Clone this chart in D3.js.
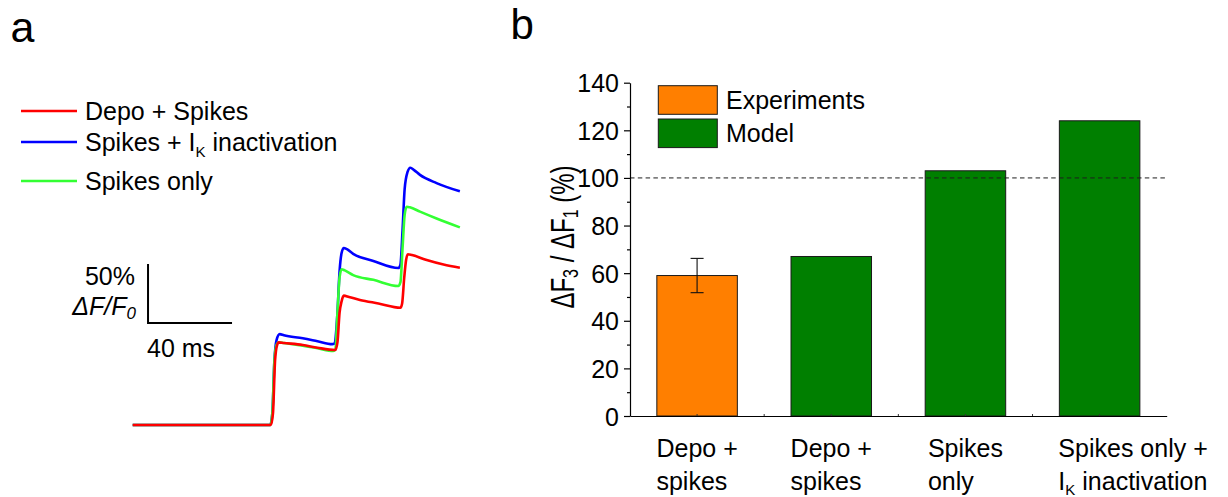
<!DOCTYPE html>
<html>
<head>
<meta charset="utf-8">
<script src="https://cdn.jsdelivr.net/npm/d3@7"></script>
<style>
  html, body { margin: 0; padding: 0; background: #fff; }
  svg { display: block; font-family: "Liberation Sans", Arial, Helvetica, sans-serif; }
</style>
</head>
<body>
<svg id="fig" width="1228" height="497"></svg>
<script>
// --- data -------------------------------------------------------------------

// panel a: simulated fluorescence traces, [time (ms), dF/F0 (%)]
const depoSpikes = [
  [0, 0], [65.8, 0], [66.8, 10], [67.8, 55], [68.8, 68], [69.5, 70], [72, 69.5],
  [81, 67.8], [88, 65.5], [96.5, 63.6], [97.5, 70], [98.5, 95], [99.5, 105],
  [100.5, 109.6], [103, 108.5], [108.2, 106], [117, 103], [127.5, 99.4],
  [128.3, 103], [129.3, 125], [130.2, 140], [131, 144.7], [133, 144],
  [140, 139.8], [148, 136], [155.8, 133.3]
];
const spikesIk = [
  [0, 0], [65.5, 0], [66.5, 10], [67.5, 55], [68.5, 72], [70, 77], [72, 76],
  [81, 73.5], [88, 71], [95, 68.5], [96, 69], [97.5, 95], [98.5, 130],
  [99.5, 146], [100.5, 150], [102, 149], [105, 145], [114.6, 139], [126.5, 133],
  [127.5, 136], [128.5, 165], [129.5, 200], [130.8, 214], [132.2, 218],
  [134, 216], [136.8, 212], [144.7, 205], [155.8, 198]
];
const spikesOnly = [
  [0, 0], [65.5, 0], [66.5, 10], [67.5, 55], [68.5, 68], [69.5, 70], [72, 69.5],
  [81, 67.2], [88, 65], [95.5, 62.7], [96.5, 64], [97.5, 95], [98.5, 125],
  [99.5, 132], [101, 131], [105, 127], [114.6, 123], [126.5, 117.8],
  [127.5, 121], [128.5, 150], [129.5, 178], [130.5, 185], [132, 184.5],
  [136.8, 180.8], [144.7, 175], [155.8, 167.5]
];
const traceLabels = ['Depo + Spikes', 'Spikes + I_{K} inactivation', 'Spikes only'];
const scaleBarTime = 40;   // ms
const scaleBarAmp = 50;    // %

// panel b: dF3/dF1 ratio
const categories = ['expDepo', 'modelDepo', 'modelSpikes', 'modelSpikesIk'];
const catLabels = [
  ['Depo +', 'spikes'],
  ['Depo +', 'spikes'],
  ['Spikes', 'only'],
  ['Spikes only +', 'I_{K} inactivation']
];
const ratioValues = [59, 67, 103, 124];
const ratioErrors = [7.2, 0, 0, 0];
const barSource = ['Experiments', 'Model', 'Model', 'Model'];
const legendNames = ['Experiments', 'Model'];
const yMajorTicks = [0, 20, 40, 60, 80, 100, 120, 140];
const yMinorTicks = [10, 30, 50, 70, 90, 110, 130];
const refLevel = 100;

// --- helpers ----------------------------------------------------------------

// write "text_{sub}text" into a <text> as tspans
function richText(sel, str, subSize, subDy) {
  const parts = str.split(/(_\{[^}]*\})/).filter(s => s.length);
  let shifted = false;
  parts.forEach(p => {
    if (p.startsWith('_{')) {
      sel.append('tspan').attr('font-size', subSize).attr('dy', subDy).text(p.slice(2, -1));
      shifted = true;
    } else {
      const t = sel.append('tspan').text(p);
      if (shifted) { t.attr('dy', -subDy); shifted = false; }
    }
  });
  return sel;
}

const svg = d3.select('#fig');
const FS = 25;

// --- panel a ----------------------------------------------------------------

svg.append('text').attr('x', 10.5).attr('y', 41.7).attr('font-size', 43).text('a');

const xA = d3.scaleLinear().domain([0, 156]).range([132.7, 460.3]);
const yA = d3.scaleLinear().domain([0, 220]).range([425, 165.4]);

const traces = [
  { label: traceLabels[0], color: '#ff0000', pts: depoSpikes },
  { label: traceLabels[1], color: '#0000ff', pts: spikesIk },
  { label: traceLabels[2], color: '#33ff33', pts: spikesOnly }
];

const line = d3.line()
  .x(d => xA(d[0]))
  .y(d => yA(d[1]))
  .curve(d3.curveMonotoneX);

// blue and green underneath, red on top
[traces[1], traces[2], traces[0]].forEach(tr => {
  svg.append('path')
    .attr('d', line(tr.pts))
    .attr('fill', 'none')
    .attr('stroke', tr.color)
    .attr('stroke-width', 2.6)
    .attr('stroke-linejoin', 'round');
});

// legend
const legendY = [111, 142, 181];
traces.forEach((tr, i) => {
  svg.append('line')
    .attr('x1', 21).attr('x2', 77)
    .attr('y1', legendY[i]).attr('y2', legendY[i])
    .attr('stroke', tr.color).attr('stroke-width', 2.4);
  const t = svg.append('text')
    .attr('x', 85).attr('y', legendY[i] + 9)
    .attr('font-size', FS);
  richText(t, tr.label, 15, 6);
});

// scale bar
const sbT0 = 7.3, sbV0 = 86.4;
svg.append('path')
  .attr('d', `M${xA(sbT0)},${yA(sbV0 + scaleBarAmp)}V${yA(sbV0)}H${xA(sbT0 + scaleBarTime)}`)
  .attr('fill', 'none').attr('stroke', '#000').attr('stroke-width', 2);
svg.append('text')
  .attr('x', xA(sbT0) - 13).attr('y', 285)
  .attr('text-anchor', 'end').attr('font-size', FS)
  .text(scaleBarAmp + '%');
const dff = svg.append('text')
  .attr('x', xA(sbT0) - 12).attr('y', 315)
  .attr('text-anchor', 'end').attr('font-size', FS)
  .attr('font-style', 'italic');
richText(dff, 'ΔF/F_{0}', 17, 4);
svg.append('text')
  .attr('x', xA(sbT0) - 1).attr('y', 357)
  .attr('font-size', FS)
  .text(scaleBarTime + ' ms');

// --- panel b ----------------------------------------------------------------

svg.append('text').attr('x', 510.5).attr('y', 39).attr('font-size', 42).text('b');

const xB = d3.scaleBand()
  .domain(categories)
  .range([630, 1166.7])
  .paddingInner(0.4)
  .paddingOuter(0.2);
const yB = d3.scaleLinear().domain([0, 140]).range([416, 82.7]);
const fillOf = { Experiments: '#ff7f00', Model: '#007f00' };

// bars
const bars = categories.map((c, i) => ({ c, v: ratioValues[i], e: ratioErrors[i], src: barSource[i] }));
svg.append('g').selectAll('rect')
  .data(bars)
  .join('rect')
    .attr('x', d => xB(d.c))
    .attr('y', d => yB(d.v))
    .attr('width', xB.bandwidth())
    .attr('height', d => yB(0) - yB(d.v))
    .attr('fill', d => fillOf[d.src])
    .attr('stroke', '#1a1a1a')
    .attr('stroke-width', 1);

// error bars
const eg = svg.append('g').attr('stroke', '#111').attr('stroke-width', 1.1);
bars.filter(d => d.e > 0).forEach(d => {
  const cx = xB(d.c) + xB.bandwidth() / 2;
  eg.append('line').attr('x1', cx).attr('x2', cx).attr('y1', yB(d.v - d.e)).attr('y2', yB(d.v + d.e));
  eg.append('line').attr('x1', cx - 6.5).attr('x2', cx + 6.5).attr('y1', yB(d.v - d.e)).attr('y2', yB(d.v - d.e));
  eg.append('line').attr('x1', cx - 6.5).attr('x2', cx + 6.5).attr('y1', yB(d.v + d.e)).attr('y2', yB(d.v + d.e));
});

// 100% reference
svg.append('line')
  .attr('x1', 630).attr('x2', 1166.7)
  .attr('y1', yB(refLevel)).attr('y2', yB(refLevel))
  .attr('stroke', '#1e1e1e').attr('stroke-width', 1)
  .attr('stroke-dasharray', '4.5,3.3');

// y axis
const yAxis = svg.append('g')
  .attr('transform', 'translate(630,0)')
  .call(d3.axisLeft(yB).tickValues(yMajorTicks).tickSize(6).tickSizeOuter(0).tickPadding(5));
yAxis.select('.domain').attr('stroke', '#000').attr('stroke-width', 1.2);
yAxis.selectAll('.tick line').attr('stroke', '#000').attr('stroke-width', 1.2);
yAxis.selectAll('.tick text')
  .attr('font-size', FS).attr('font-family', null).attr('fill', '#000').attr('dy', '0.36em');

const yMinor = svg.append('g')
  .attr('transform', 'translate(630,0)')
  .call(d3.axisLeft(yB).tickValues(yMinorTicks).tickSize(3).tickFormat(''));
yMinor.select('.domain').remove();
yMinor.selectAll('.tick line').attr('stroke', '#000').attr('stroke-width', 1.2);

// x axis: line with tiny inward ticks at centers and band boundaries
const xAxis = svg.append('g')
  .attr('transform', 'translate(0,416)')
  .call(d3.axisBottom(xB).tickSize(-2).tickSizeOuter(0).tickFormat(''));
xAxis.select('.domain').attr('stroke', '#000').attr('stroke-width', 1.2);
xAxis.selectAll('.tick line').attr('stroke', '#333');
categories.slice(1).forEach(c => {
  const bx = xB(c) - xB.step() * xB.paddingInner() / 2;
  xAxis.append('line').attr('x1', bx).attr('x2', bx).attr('y1', 0).attr('y2', -2).attr('stroke', '#333');
});

// category labels: left-aligned two-line blocks
categories.forEach((c, i) => {
  const g = svg.append('g');
  const t = g.append('text').attr('font-size', FS);
  catLabels[i].forEach((ln, k) => {
    const row = t.append('tspan').attr('x', 0).attr('y', 457 + k * 33);
    richText(row, ln, 15, 5);
  });
  const w = t.node().getBBox().width;
  const center = xB(c) + xB.bandwidth() / 2;
  const x0 = Math.max(center - w / 2, xB(c) - 1);
  g.attr('transform', `translate(${x0},0)`);
});

// y axis title (glyphs stretched like the original)
const yt = svg.append('text')
  .attr('transform', 'translate(574,237) rotate(-90) scale(1,1.4)')
  .attr('text-anchor', 'middle')
  .attr('font-size', 24);
richText(yt, 'ΔF_{3} / ΔF_{1} (%)', 16, 3);

// legend
legendNames.forEach((name, i) => {
  const y0 = 85.7 + i * 33.3;
  svg.append('rect')
    .attr('x', 658.3).attr('y', y0)
    .attr('width', 59).attr('height', 28.6)
    .attr('fill', fillOf[name])
    .attr('stroke', '#1a1a1a').attr('stroke-width', 1);
  svg.append('text')
    .attr('x', 726).attr('y', y0 + 23)
    .attr('font-size', FS)
    .text(name);
});
</script>
</body>
</html>
